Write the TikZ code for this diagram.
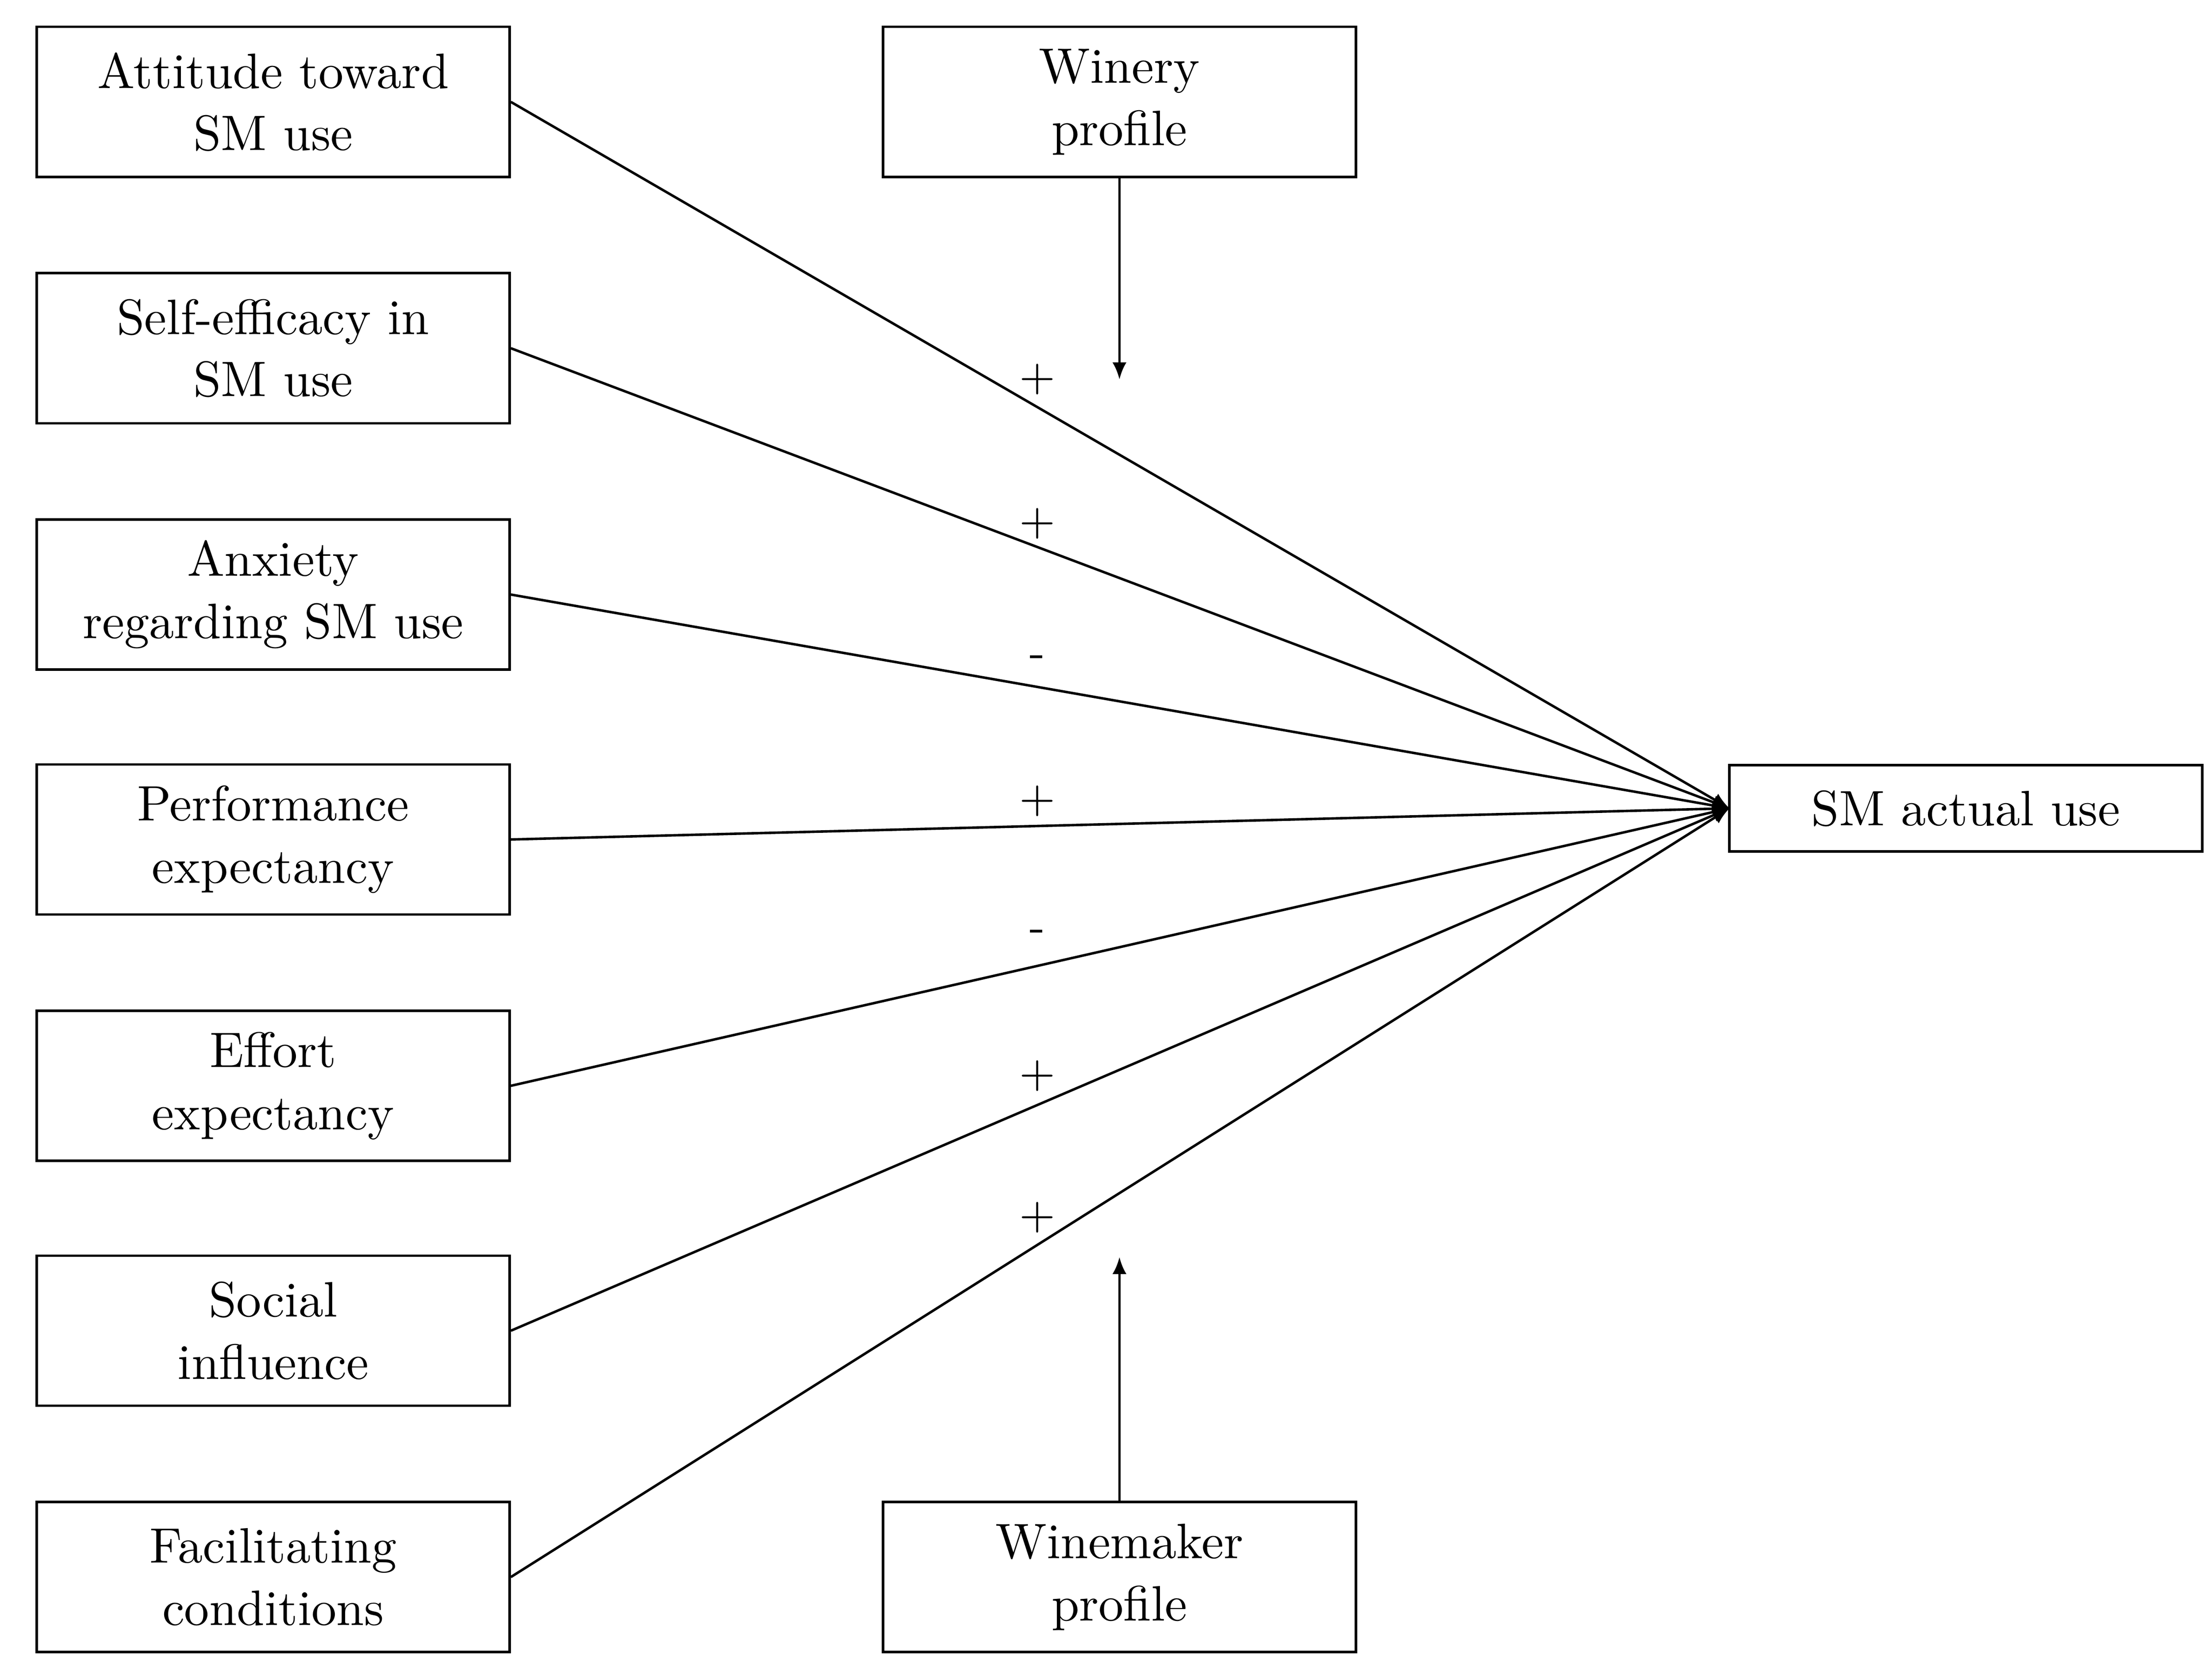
\documentclass[tikz,border=0pt]{standalone}
\usetikzlibrary{arrows.meta}
\begin{document}
\begin{tikzpicture}[x=0.01cm,y=-0.01cm,
  box/.style={draw,line width=0.5pt,minimum width=3.34cm,align=center,inner sep=0pt,font=\fontsize{10}{12.5}\selectfont},
  tall/.style={box,minimum height=1.06cm},
  arr/.style={line width=0.5pt,-{Latex[length=1.2mm,width=1mm]}},
  sgn/.style={font=\fontsize{9}{10}\selectfont}]
\useasboundingbox (0,0) rectangle (1563,1183);
\node[tall] (a) at (193,72) {Attitude toward\\SM use};
\node[tall] (b) at (193,246) {Self-efficacy in\\SM use};
\node[tall] (c) at (193,420) {Anxiety\\regarding SM use};
\node[tall] (d) at (193,593) {Performance\\expectancy};
\node[tall] (e) at (193,767) {Effort\\expectancy};
\node[tall] (f) at (193,940) {Social\\influence};
\node[tall] (g) at (193,1114) {Facilitating\\conditions};
\node[tall] (w) at (791,72) {Winery\\profile};
\node[tall] (m) at (791,1114) {Winemaker\\profile};
\node[box,minimum height=0.61cm] (s) at (1389,571) {SM actual use};
\coordinate (t) at (1222,571);
\coordinate (wt) at (791,268);
\coordinate (mt) at (791,888);
\foreach \n in {a,b,c,d,e,f,g} \draw[arr] (\n.east) -- (t);
\draw[arr] (w.south) -- (wt);
\draw[arr] (m.north) -- (mt);
\node[sgn] (p1) at (733,268) {+};
\node[sgn] (p2) at (733,370) {+};
\node[sgn] (p3) at (733,467) {-};
\node[sgn] (p4) at (733,566) {+};
\node[sgn] (p5) at (733,661) {-};
\node[sgn] (p6) at (733,760) {+};
\node[sgn] (p7) at (733,860) {+};
\end{tikzpicture}
\end{document}
